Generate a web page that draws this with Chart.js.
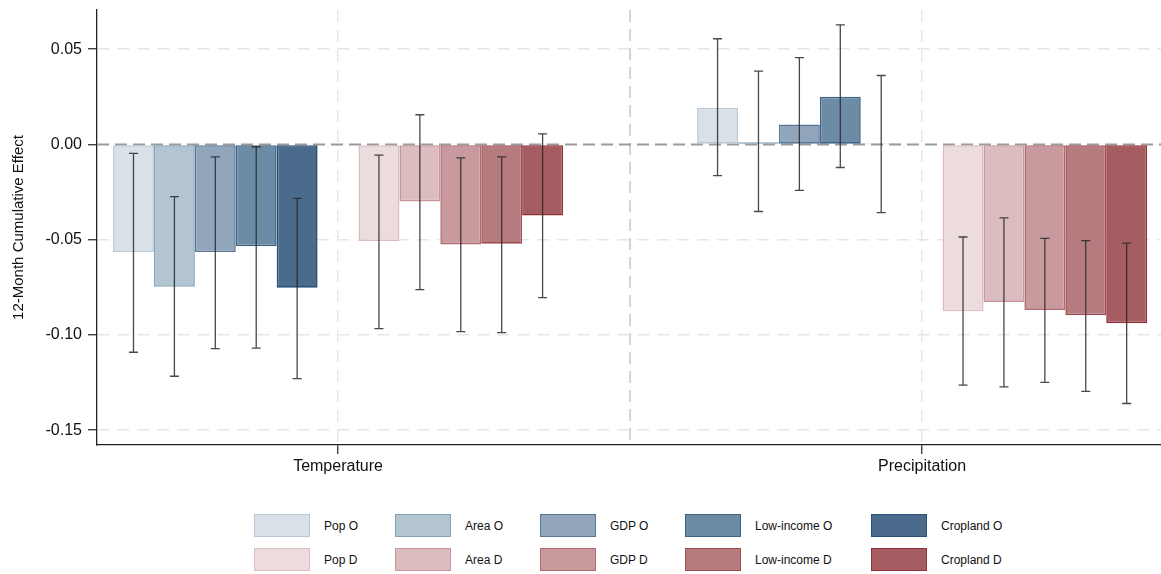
<!DOCTYPE html>
<html>
<head>
<meta charset="utf-8">
<script src="https://cdn.jsdelivr.net/npm/chart.js@4.4.1/dist/chart.umd.min.js"></script>
<style>
  html,body{margin:0;padding:0;background:#fff;}
  #wrap{position:relative;width:1161px;height:574px;font-family:'Liberation Sans',Arial,sans-serif;}
  #c{position:absolute;left:0;top:0;}
  .li{position:absolute;height:24px;font-size:12px;color:#111;}
  .sw{position:absolute;left:0;top:0;width:54px;height:21px;border:1.5px solid;}
  .tx{position:absolute;left:70px;top:5px;white-space:nowrap;}
</style>
</head>
<body>
<div id="wrap">
  <canvas id="c" width="1161" height="490"></canvas>
  <div id="legend"></div>
</div>
<script>
/* categories + tick positions */
const categories = ['Temperature','Precipitation'];
const catPos = [1, 2];
const yTicks = [-0.15, -0.10, -0.05, 0, 0.05];
const measures = ['Pop','Area','GDP','Low-income','Cropland'];

/* point estimates, lower / upper CI : order Pop, Area, GDP, Low-income, Cropland */
const tempO   = [-0.0565, -0.0747, -0.0565, -0.0535, -0.0752];
const tempOLo = [-0.1091, -0.1217, -0.1072, -0.1069, -0.1229];
const tempOHi = [-0.0047, -0.0274, -0.0065, -0.0012, -0.0283];
const tempD   = [-0.0507, -0.0299, -0.0525, -0.0521, -0.0373];
const tempDLo = [-0.0967, -0.0762, -0.0983, -0.0988, -0.0804];
const tempDHi = [-0.0056,  0.0156, -0.0070, -0.0065,  0.0056];
const precO   = [ 0.0193,  0.0012,  0.0105,  0.0250,  0.0005];
const precOLo = [-0.0164, -0.0352, -0.0241, -0.0121, -0.0358];
const precOHi = [ 0.0555,  0.0385,  0.0456,  0.0628,  0.0362];
const precD   = [-0.0876, -0.0827, -0.0869, -0.0897, -0.0939];
const precDLo = [-0.1264, -0.1273, -0.1249, -0.1296, -0.1360];
const precDHi = [-0.0486, -0.0385, -0.0493, -0.0505, -0.0518];

const fillO = ['#d9e0e8','#b4c5d2','#91a6ba','#6c8ba5','#4a6b8b'];
const lineO = ['#b9c7d5','#87a2b8','#587898','#3d6487','#2b5077'];
const fillD = ['#ecdcde','#dbbcbf','#c99a9d','#b67b7f','#a55d62'];
const lineD = ['#dcbcc0','#c8969b','#b06b71','#9f4c53','#913039'];

function mk(label, vals, lo, hi, fill, line){
  return {label, data: catPos.map((x,i)=>({x, y: vals[i]})), lo, hi,
    backgroundColor: fill, borderColor: line, borderWidth: 1.6, borderSkipped: false};
}
const datasets = [];
measures.forEach((m,k)=>datasets.push(mk(m+' O',[tempO[k],precO[k]],[tempOLo[k],precOLo[k]],[tempOHi[k],precOHi[k]],fillO[k],lineO[k])));
datasets.push({label:'', data: catPos.map(x=>({x, y:null}))});
measures.forEach((m,k)=>datasets.push(mk(m+' D',[tempD[k],precD[k]],[tempDLo[k],precDLo[k]],[tempDHi[k],precDHi[k]],fillD[k],lineD[k])));

const refLines = {
  id:'refLines',
  beforeDatasetsDraw(chart){
    const {ctx, chartArea:a, scales:{x,y}} = chart;
    ctx.save();
    // divider between the two panels
    ctx.strokeStyle='#c6c6c6'; ctx.lineWidth=1.5; ctx.setLineDash([12,7]);
    const xm = x.getPixelForValue((catPos[0]+catPos[1])/2);
    ctx.beginPath(); ctx.moveTo(xm,a.top); ctx.lineTo(xm,a.bottom); ctx.stroke();
    // zero line
    ctx.strokeStyle='#9a9a9a'; ctx.lineWidth=2; ctx.setLineDash([12,6]);
    const y0 = y.getPixelForValue(0);
    ctx.beginPath(); ctx.moveTo(a.left,y0); ctx.lineTo(a.right,y0); ctx.stroke();
    ctx.restore();
  }
};
const errBars = {
  id:'errBars',
  afterDatasetsDraw(chart){
    const {ctx, scales:{y}} = chart;
    ctx.save();
    ctx.strokeStyle='rgba(40,40,40,0.85)'; ctx.lineWidth=1.3;
    chart.data.datasets.forEach((ds,di)=>{
      if(!ds.lo) return;
      chart.getDatasetMeta(di).data.forEach((bar,i)=>{
        const x=bar.x, y1=y.getPixelForValue(ds.lo[i]), y2=y.getPixelForValue(ds.hi[i]);
        ctx.beginPath();
        ctx.moveTo(x,y1); ctx.lineTo(x,y2);
        ctx.moveTo(x-4.5,y1); ctx.lineTo(x+4.5,y1);
        ctx.moveTo(x-4.5,y2); ctx.lineTo(x+4.5,y2);
        ctx.stroke();
      });
    });
    ctx.restore();
  }
};

const FONT = "'Liberation Sans', Arial, sans-serif";
new Chart(document.getElementById('c'), {
  type:'bar',
  data:{datasets},
  options:{
    responsive:false, animation:false, devicePixelRatio:1,
    layout:{padding:{top:10,right:0,left:0,bottom:0}},
    categoryPercentage:0.7705, barPercentage:1,
    plugins:{legend:{display:false}, tooltip:{enabled:false}},
    scales:{
      x:{type:'linear', min:0.5873, max:2.409, offset:false,
        afterBuildTicks:s=>{ s.ticks = catPos.map(v=>({value:v})); },
        afterFit:s=>{ s.height = 45; },
        ticks:{callback:v=>categories[catPos.indexOf(v)], color:'#111', font:{family:FONT,size:16}, padding:3, maxRotation:0, autoSkip:false},
        grid:{offset:false, color:'#e6e6e6', lineWidth:1.5, tickLength:9, tickColor:'#222', tickWidth:1.2},
        border:{color:'#222', width:1.3, dash:[12,8]}
      },
      y:{min:-0.1578, max:0.0706,
        afterBuildTicks:s=>{ s.ticks = yTicks.map(v=>({value:v})); },
        afterFit:s=>{ s.width = 97; s.paddingTop = 0; s.paddingBottom = 0; },
        ticks:{callback:v=>v.toFixed(2), color:'#111', font:{family:FONT,size:16}, padding:6},
        grid:{color:c=>c.tick && c.tick.value===0 ? 'rgba(0,0,0,0)' : '#e6e6e6', lineWidth:1.5, tickLength:9, tickColor:'#222', tickWidth:1.2},
        border:{color:'#222', width:1.3, dash:[12,8]},
        title:{display:true, text:'12-Month Cumulative Effect', color:'#111', font:{family:FONT,size:15}, padding:{top:10,bottom:4}}
      }
    }
  },
  plugins:[refLines, errBars]
});

/* legend: two rows (O then D), five columns */
const legX = [254, 395, 540, 685, 871];
const legY = [514, 548];
const leg = document.getElementById('legend');
[['O',fillO,lineO],['D',fillD,lineD]].forEach(([suf,f,l],r)=>{
  measures.forEach((m,k)=>{
    const d=document.createElement('div'); d.className='li';
    d.style.left=legX[k]+'px'; d.style.top=legY[r]+'px';
    d.innerHTML='<span class="sw" style="background:'+f[k]+';border-color:'+l[k]+'"></span><span class="tx">'+m+' '+suf+'</span>';
    leg.appendChild(d);
  });
});
</script>
</body>
</html>
